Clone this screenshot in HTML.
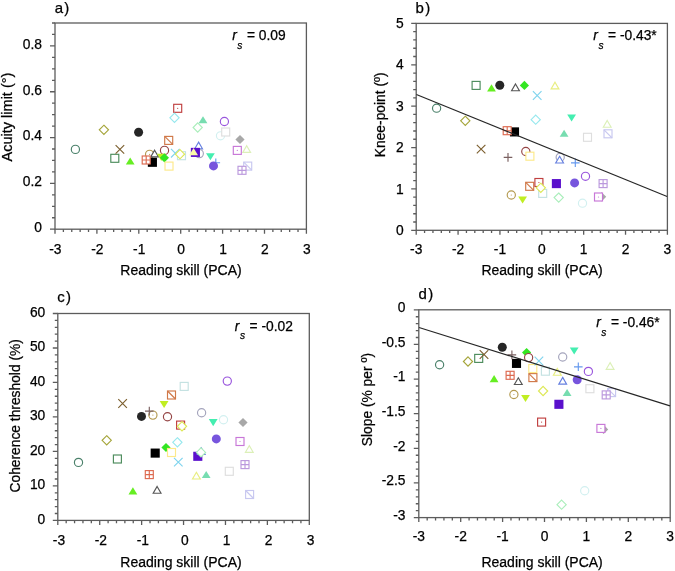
<!DOCTYPE html>
<html><head><meta charset="utf-8"><style>
html,body{margin:0;padding:0;background:#fff;}
body{width:675px;height:571px;overflow:hidden;}
svg{display:block;filter:blur(0.35px);}
text{font-family:"Liberation Sans",sans-serif;font-size:13.8px;fill:#000000;stroke:#000000;stroke-width:0.25px;}
</style></head><body>
<svg width="675" height="571" viewBox="0 0 675 571">
<rect width="675" height="571" fill="#fff"/>
<rect x="55.0" y="23.0" width="251.39999999999998" height="206.2" fill="none" stroke="#5c5c5c" stroke-width="1.3"/>
<path d="M50.00 229.20H55.0M52.00 217.74H55.0M52.00 206.29H55.0M52.00 194.83H55.0M50.00 183.38H55.0M52.00 171.92H55.0M52.00 160.47H55.0M52.00 149.01H55.0M50.00 137.56H55.0M52.00 126.10H55.0M52.00 114.64H55.0M52.00 103.19H55.0M50.00 91.73H55.0M52.00 80.28H55.0M52.00 68.82H55.0M52.00 57.37H55.0M50.00 45.91H55.0M52.00 34.46H55.0M52.00 23.00H55.0M55.00 229.2V233.70M63.38 229.2V232.00M71.76 229.2V232.00M80.14 229.2V232.00M88.52 229.2V232.00M96.90 229.2V233.70M105.28 229.2V232.00M113.66 229.2V232.00M122.04 229.2V232.00M130.42 229.2V232.00M138.80 229.2V233.70M147.18 229.2V232.00M155.56 229.2V232.00M163.94 229.2V232.00M172.32 229.2V232.00M180.70 229.2V233.70M189.08 229.2V232.00M197.46 229.2V232.00M205.84 229.2V232.00M214.22 229.2V232.00M222.60 229.2V233.70M230.98 229.2V232.00M239.36 229.2V232.00M247.74 229.2V232.00M256.12 229.2V232.00M264.50 229.2V233.70M272.88 229.2V232.00M281.26 229.2V232.00M289.64 229.2V232.00M298.02 229.2V232.00M306.40 229.2V233.70" stroke="#5c5c5c" stroke-width="1.3" fill="none"/>
<text x="41.9" y="232.10" text-anchor="end">0</text>
<text x="41.9" y="186.28" text-anchor="end">0.2</text>
<text x="41.9" y="140.46" text-anchor="end">0.4</text>
<text x="41.9" y="94.63" text-anchor="end">0.6</text>
<text x="41.9" y="48.81" text-anchor="end">0.8</text>
<text x="55.40" y="253.50" text-anchor="middle">-3</text>
<text x="97.30" y="253.50" text-anchor="middle">-2</text>
<text x="139.20" y="253.50" text-anchor="middle">-1</text>
<text x="181.10" y="253.50" text-anchor="middle">0</text>
<text x="223.00" y="253.50" text-anchor="middle">1</text>
<text x="264.90" y="253.50" text-anchor="middle">2</text>
<text x="306.80" y="253.50" text-anchor="middle">3</text>
<text x="181.00" y="275.2" text-anchor="middle" style="font-size:14px">Reading skill (PCA)</text>
<text transform="translate(12.2 117.0) rotate(-90)" text-anchor="middle" style="font-size:14.5px">Acuity limit (°)</text>
<text x="54.7" y="12.9" style="font-size:15px;letter-spacing:1.3px">a)</text>
<text x="232.20" y="40.0" font-style="italic">r</text>
<text x="237.30" y="48.70" style="font-style:italic;font-size:10.2px">s</text>
<text x="246.90" y="40.0">= 0.09</text>
<circle cx="75.4" cy="149.4" r="4.10" fill="#fff" stroke="#4a806a" stroke-width="1.15"/>
<path d="M103.9 125.20L108.50 129.8L103.9 134.40L99.30 129.8Z" fill="#fff" stroke="#a5a53a" stroke-width="1.15"/>
<rect x="110.80" y="154.30" width="8.00" height="8.00" fill="#fff" stroke="#4c8c5c" stroke-width="1.15"/>
<path d="M115.60 145.10L124.20 153.70M124.20 145.10L115.60 153.70" stroke="#7d6030" stroke-width="1.15"/>
<path d="M130.2 157.40L134.60 164.50L125.80 164.50Z" fill="#66ee22"/>
<circle cx="138.6" cy="132.2" r="4.50" fill="#262626"/>
<circle cx="149.6" cy="154.3" r="4.10" fill="#fff" stroke="#b49a50" stroke-width="1.15"/><circle cx="149.6" cy="154.3" r="0.6" fill="#b49a50"/>
<path d="M154.6 150.20L158.50 156.90L150.70 156.90Z" fill="#fff" stroke="#555555" stroke-width="1.15"/>
<rect x="147.85" y="157.75" width="9.10" height="9.10" fill="#000000"/>
<rect x="142.20" y="156.00" width="8.00" height="8.00" fill="#fff" stroke="#dd6a50" stroke-width="1.15"/><path d="M142.20 160.0H150.20M146.2 156.00V164.00" stroke="#dd6a50" stroke-width="1.15"/>
<circle cx="164.5" cy="150.4" r="4.10" fill="#fff" stroke="#954545" stroke-width="1.15"/>
<path d="M161.3 160.90L165.70 153.80L156.90 153.80Z" fill="#c0ee22"/>
<path d="M164.4 153.20L169.00 157.8L164.4 162.40L159.80 157.8Z" fill="#33e622"/>
<rect x="164.70" y="136.40" width="8.00" height="8.00" fill="#fff" stroke="#d07848" stroke-width="1.15"/><path d="M164.70 136.40L172.70 144.40" stroke="#d07848" stroke-width="1.15"/>
<rect x="165.00" y="162.10" width="8.00" height="8.00" fill="#fff" stroke="#fde98a" stroke-width="1.15"/>
<rect x="173.70" y="104.30" width="8.00" height="8.00" fill="#fff" stroke="#c04040" stroke-width="1.15"/><circle cx="177.7" cy="108.3" r="0.6" fill="#c04040"/>
<path d="M174.5 113.20L179.10 117.8L174.5 122.40L169.90 117.8Z" fill="#fff" stroke="#96e8ee" stroke-width="1.15"/>
<path d="M171.00 148.90L179.60 157.50M179.60 148.90L171.00 157.50" stroke="#7fd4ee" stroke-width="1.15"/>
<rect x="177.50" y="151.70" width="8.00" height="8.00" fill="#fff" stroke="#c4e2e2" stroke-width="1.15"/>
<path d="M180 149.60L184.60 154.2L180 158.80L175.40 154.2Z" fill="#fff" stroke="#dde855" stroke-width="1.15"/>
<path d="M197.7 122.90L202.30 127.5L197.7 132.10L193.10 127.5Z" fill="#fff" stroke="#aaeebb" stroke-width="1.15"/>
<path d="M198.6 142.10L202.50 148.80L194.70 148.80Z" fill="#fff" stroke="#6680e0" stroke-width="1.15"/>
<circle cx="199.3" cy="153.6" r="4.10" fill="#fff" stroke="#a4a4bc" stroke-width="1.15"/>
<rect x="190.85" y="147.85" width="9.10" height="9.10" fill="#5a10cc"/>
<path d="M193.6 148.10L198.00 155.20L189.20 155.20Z" fill="#fafaa8"/>
<path d="M203 116.20L207.40 123.30L198.60 123.30Z" fill="#77ddb0"/>
<path d="M210.4 160.30L214.80 153.20L206.00 153.20Z" fill="#44eeb0"/>
<path d="M211.50 162.7H220.10M215.8 158.40V167.00" stroke="#6699ee" stroke-width="1.15"/>
<circle cx="213.5" cy="165.9" r="4.50" fill="#7755dd"/>
<circle cx="220.5" cy="135.8" r="4.10" fill="#fff" stroke="#d2f0f0" stroke-width="1.15"/>
<circle cx="224.4" cy="121.5" r="4.10" fill="#fff" stroke="#9955dd" stroke-width="1.15"/>
<rect x="221.70" y="128.00" width="8.00" height="8.00" fill="#fff" stroke="#dedede" stroke-width="1.15"/>
<rect x="233.30" y="146.40" width="8.00" height="8.00" fill="#fff" stroke="#c877d8" stroke-width="1.15"/><circle cx="237.3" cy="150.4" r="0.6" fill="#c877d8"/>
<path d="M240 134.90L244.60 139.5L240 144.10L235.40 139.5Z" fill="#a8a8a8"/>
<rect x="243.70" y="162.10" width="8.00" height="8.00" fill="#fff" stroke="#c8c8f0" stroke-width="1.15"/><path d="M243.70 162.10L251.70 170.10" stroke="#c8c8f0" stroke-width="1.15"/>
<rect x="238.00" y="166.30" width="8.00" height="8.00" fill="#fff" stroke="#bb99dd" stroke-width="1.15"/><path d="M238.00 170.3H246.00M242 166.30V174.30" stroke="#bb99dd" stroke-width="1.15"/>
<path d="M246.7 145.70L250.60 152.40L242.80 152.40Z" fill="#fff" stroke="#dcf0b8" stroke-width="1.15"/>
<rect x="416.2" y="23.4" width="251.2" height="206.9" fill="none" stroke="#5c5c5c" stroke-width="1.3"/>
<path d="M411.20 230.30H416.2M413.20 222.02H416.2M413.20 213.75H416.2M413.20 205.47H416.2M413.20 197.20H416.2M411.20 188.92H416.2M413.20 180.64H416.2M413.20 172.37H416.2M413.20 164.09H416.2M413.20 155.82H416.2M411.20 147.54H416.2M413.20 139.26H416.2M413.20 130.99H416.2M413.20 122.71H416.2M413.20 114.44H416.2M411.20 106.16H416.2M413.20 97.88H416.2M413.20 89.61H416.2M413.20 81.33H416.2M413.20 73.06H416.2M411.20 64.78H416.2M413.20 56.50H416.2M413.20 48.23H416.2M413.20 39.95H416.2M413.20 31.68H416.2M411.20 23.40H416.2M416.20 230.3V234.80M424.57 230.3V233.10M432.95 230.3V233.10M441.32 230.3V233.10M449.69 230.3V233.10M458.07 230.3V234.80M466.44 230.3V233.10M474.81 230.3V233.10M483.19 230.3V233.10M491.56 230.3V233.10M499.93 230.3V234.80M508.31 230.3V233.10M516.68 230.3V233.10M525.05 230.3V233.10M533.43 230.3V233.10M541.80 230.3V234.80M550.17 230.3V233.10M558.55 230.3V233.10M566.92 230.3V233.10M575.29 230.3V233.10M583.67 230.3V234.80M592.04 230.3V233.10M600.41 230.3V233.10M608.79 230.3V233.10M617.16 230.3V233.10M625.53 230.3V234.80M633.91 230.3V233.10M642.28 230.3V233.10M650.65 230.3V233.10M659.03 230.3V233.10M667.40 230.3V234.80" stroke="#5c5c5c" stroke-width="1.3" fill="none"/>
<text x="403.6" y="234.90" text-anchor="end">0</text>
<text x="403.6" y="193.52" text-anchor="end">1</text>
<text x="403.6" y="152.14" text-anchor="end">2</text>
<text x="403.6" y="110.76" text-anchor="end">3</text>
<text x="403.6" y="69.38" text-anchor="end">4</text>
<text x="403.6" y="28.00" text-anchor="end">5</text>
<text x="416.20" y="253.50" text-anchor="middle">-3</text>
<text x="458.07" y="253.50" text-anchor="middle">-2</text>
<text x="499.93" y="253.50" text-anchor="middle">-1</text>
<text x="541.80" y="253.50" text-anchor="middle">0</text>
<text x="583.67" y="253.50" text-anchor="middle">1</text>
<text x="625.53" y="253.50" text-anchor="middle">2</text>
<text x="667.40" y="253.50" text-anchor="middle">3</text>
<text x="542.10" y="275.4" text-anchor="middle" style="font-size:14px">Reading skill (PCA)</text>
<text transform="translate(385.4 114.8) rotate(-90)" text-anchor="middle">Knee-point (º)</text>
<text x="415.6" y="13.0" style="font-size:15px;letter-spacing:1.3px">b)</text>
<text x="593.30" y="40.2" font-style="italic">r</text>
<text x="598.40" y="48.90" style="font-style:italic;font-size:10.2px">s</text>
<text x="608.00" y="40.2">= -0.43*</text>
<circle cx="436.6" cy="108.2" r="4.10" fill="#fff" stroke="#4a806a" stroke-width="1.15"/>
<path d="M465.3 116.20L469.90 120.8L465.3 125.40L460.70 120.8Z" fill="#fff" stroke="#a5a53a" stroke-width="1.15"/>
<rect x="472.10" y="81.40" width="8.00" height="8.00" fill="#fff" stroke="#4c8c5c" stroke-width="1.15"/>
<path d="M476.80 144.80L485.40 153.40M485.40 144.80L476.80 153.40" stroke="#7d6030" stroke-width="1.15"/>
<path d="M491.5 84.30L495.90 91.40L487.10 91.40Z" fill="#66ee22"/>
<circle cx="499.8" cy="85.2" r="4.50" fill="#262626"/>
<rect x="509.95" y="127.35" width="9.10" height="9.10" fill="#000000"/>
<rect x="503.20" y="126.70" width="8.00" height="8.00" fill="#fff" stroke="#dd6a50" stroke-width="1.15"/><path d="M503.20 130.7H511.20M507.2 126.70V134.70" stroke="#dd6a50" stroke-width="1.15"/>
<circle cx="511.3" cy="195" r="4.10" fill="#fff" stroke="#b49a50" stroke-width="1.15"/><circle cx="511.3" cy="195" r="0.6" fill="#b49a50"/>
<path d="M515.5 84.00L519.40 90.70L511.60 90.70Z" fill="#fff" stroke="#555555" stroke-width="1.15"/>
<path d="M503.70 157.4H512.30M508 153.10V161.70" stroke="#7a6060" stroke-width="1.15"/>
<circle cx="525.8" cy="151.5" r="4.10" fill="#fff" stroke="#954545" stroke-width="1.15"/>
<path d="M522.6 203.50L527.00 196.40L518.20 196.40Z" fill="#c0ee22"/>
<path d="M524.4 80.80L529.00 85.4L524.4 90.00L519.80 85.4Z" fill="#33e622"/>
<rect x="525.70" y="182.30" width="8.00" height="8.00" fill="#fff" stroke="#d07848" stroke-width="1.15"/><path d="M525.70 182.30L533.70 190.30" stroke="#d07848" stroke-width="1.15"/>
<rect x="525.90" y="152.20" width="8.00" height="8.00" fill="#fff" stroke="#fde98a" stroke-width="1.15"/>
<rect x="534.90" y="178.50" width="8.00" height="8.00" fill="#fff" stroke="#c04040" stroke-width="1.15"/><circle cx="538.9" cy="182.5" r="0.6" fill="#c04040"/>
<path d="M535.7 115.10L540.30 119.7L535.7 124.30L531.10 119.7Z" fill="#fff" stroke="#96e8ee" stroke-width="1.15"/>
<path d="M532.90 91.20L541.50 99.80M541.50 91.20L532.90 99.80" stroke="#7fd4ee" stroke-width="1.15"/>
<rect x="538.70" y="189.40" width="8.00" height="8.00" fill="#fff" stroke="#c4e2e2" stroke-width="1.15"/>
<path d="M540.8 183.20L545.40 187.8L540.8 192.40L536.20 187.8Z" fill="#fff" stroke="#dde855" stroke-width="1.15"/>
<path d="M555 82.20L558.90 88.90L551.10 88.90Z" fill="#fff" stroke="#e8ee80" stroke-width="1.15"/>
<rect x="551.85" y="179.05" width="9.10" height="9.10" fill="#5a10cc"/>
<path d="M558.7 193.00L563.30 197.6L558.7 202.20L554.10 197.6Z" fill="#fff" stroke="#aaeebb" stroke-width="1.15"/>
<circle cx="560.2" cy="157.2" r="4.10" fill="#fff" stroke="#a4a4bc" stroke-width="1.15"/>
<path d="M559.6 156.30L563.50 163.00L555.70 163.00Z" fill="#fff" stroke="#6680e0" stroke-width="1.15"/>
<path d="M564.1 129.70L568.50 136.80L559.70 136.80Z" fill="#77ddb0"/>
<path d="M571.6 121.50L576.00 114.40L567.20 114.40Z" fill="#44eeb0"/>
<path d="M571.00 162.8H579.60M575.3 158.50V167.10" stroke="#6699ee" stroke-width="1.15"/>
<circle cx="574.6" cy="182.9" r="4.50" fill="#7755dd"/>
<circle cx="582.5" cy="203.2" r="4.10" fill="#fff" stroke="#d2f0f0" stroke-width="1.15"/>
<circle cx="585.5" cy="176.3" r="4.10" fill="#fff" stroke="#9955dd" stroke-width="1.15"/>
<rect x="583.50" y="133.30" width="8.00" height="8.00" fill="#fff" stroke="#dedede" stroke-width="1.15"/>
<path d="M601.6 192.20L606.20 196.8L601.6 201.40L597.00 196.8Z" fill="#a8a8a8"/>
<rect x="594.50" y="193.00" width="8.00" height="8.00" fill="#fff" stroke="#c877d8" stroke-width="1.15"/><circle cx="598.5" cy="197" r="0.6" fill="#c877d8"/>
<rect x="599.10" y="179.60" width="8.00" height="8.00" fill="#fff" stroke="#bb99dd" stroke-width="1.15"/><path d="M599.10 183.6H607.10M603.1 179.60V187.60" stroke="#bb99dd" stroke-width="1.15"/>
<path d="M607.2 120.50L611.10 127.20L603.30 127.20Z" fill="#fff" stroke="#dcf0b8" stroke-width="1.15"/>
<rect x="604.00" y="129.80" width="8.00" height="8.00" fill="#fff" stroke="#c8c8f0" stroke-width="1.15"/><path d="M604.00 129.80L612.00 137.80" stroke="#c8c8f0" stroke-width="1.15"/>
<path d="M416.4 94.5L667.1 196.5" stroke="#262626" stroke-width="1.15"/>
<rect x="57.8" y="313.5" width="251.5" height="206.89999999999998" fill="none" stroke="#5c5c5c" stroke-width="1.3"/>
<path d="M52.80 520.40H57.8M54.80 513.50H57.8M54.80 506.61H57.8M54.80 499.71H57.8M54.80 492.81H57.8M52.80 485.92H57.8M54.80 479.02H57.8M54.80 472.12H57.8M54.80 465.23H57.8M54.80 458.33H57.8M52.80 451.43H57.8M54.80 444.54H57.8M54.80 437.64H57.8M54.80 430.74H57.8M54.80 423.85H57.8M52.80 416.95H57.8M54.80 410.05H57.8M54.80 403.16H57.8M54.80 396.26H57.8M54.80 389.36H57.8M52.80 382.47H57.8M54.80 375.57H57.8M54.80 368.67H57.8M54.80 361.78H57.8M54.80 354.88H57.8M52.80 347.98H57.8M54.80 341.09H57.8M54.80 334.19H57.8M54.80 327.29H57.8M54.80 320.40H57.8M52.80 313.50H57.8M57.80 520.4V524.90M66.18 520.4V523.20M74.57 520.4V523.20M82.95 520.4V523.20M91.33 520.4V523.20M99.72 520.4V524.90M108.10 520.4V523.20M116.48 520.4V523.20M124.87 520.4V523.20M133.25 520.4V523.20M141.63 520.4V524.90M150.02 520.4V523.20M158.40 520.4V523.20M166.78 520.4V523.20M175.17 520.4V523.20M183.55 520.4V524.90M191.93 520.4V523.20M200.32 520.4V523.20M208.70 520.4V523.20M217.08 520.4V523.20M225.47 520.4V524.90M233.85 520.4V523.20M242.23 520.4V523.20M250.62 520.4V523.20M259.00 520.4V523.20M267.38 520.4V524.90M275.77 520.4V523.20M284.15 520.4V523.20M292.53 520.4V523.20M300.92 520.4V523.20M309.30 520.4V524.90" stroke="#5c5c5c" stroke-width="1.3" fill="none"/>
<text x="45.3" y="523.50" text-anchor="end">0</text>
<text x="45.3" y="489.02" text-anchor="end">10</text>
<text x="45.3" y="454.53" text-anchor="end">20</text>
<text x="45.3" y="420.05" text-anchor="end">30</text>
<text x="45.3" y="385.57" text-anchor="end">40</text>
<text x="45.3" y="351.08" text-anchor="end">50</text>
<text x="45.3" y="316.60" text-anchor="end">60</text>
<text x="59.00" y="544.60" text-anchor="middle">-3</text>
<text x="100.92" y="544.60" text-anchor="middle">-2</text>
<text x="142.83" y="544.60" text-anchor="middle">-1</text>
<text x="184.75" y="544.60" text-anchor="middle">0</text>
<text x="226.67" y="544.60" text-anchor="middle">1</text>
<text x="268.58" y="544.60" text-anchor="middle">2</text>
<text x="310.50" y="544.60" text-anchor="middle">3</text>
<text x="181.00" y="567.1" text-anchor="middle" style="font-size:14px">Reading skill (PCA)</text>
<text transform="translate(20.3 415.8) rotate(-90)" text-anchor="middle">Coherence threshold (%)</text>
<text x="57.2" y="301.6" style="font-size:15px;letter-spacing:1.3px">c)</text>
<text x="234.80" y="330.6" font-style="italic">r</text>
<text x="239.90" y="339.30" style="font-style:italic;font-size:10.2px">s</text>
<text x="249.50" y="330.6">= -0.02</text>
<circle cx="78.5" cy="462.4" r="4.10" fill="#fff" stroke="#4a806a" stroke-width="1.15"/>
<path d="M106.7 435.70L111.30 440.3L106.7 444.90L102.10 440.3Z" fill="#fff" stroke="#a5a53a" stroke-width="1.15"/>
<rect x="113.40" y="455.00" width="8.00" height="8.00" fill="#fff" stroke="#4c8c5c" stroke-width="1.15"/>
<path d="M118.30 399.20L126.90 407.80M126.90 399.20L118.30 407.80" stroke="#7d6030" stroke-width="1.15"/>
<path d="M132.9 487.30L137.30 494.40L128.50 494.40Z" fill="#66ee22"/>
<circle cx="141.5" cy="416.4" r="4.50" fill="#262626"/>
<rect x="145.30" y="470.60" width="8.00" height="8.00" fill="#fff" stroke="#dd6a50" stroke-width="1.15"/><path d="M145.30 474.6H153.30M149.3 470.60V478.60" stroke="#dd6a50" stroke-width="1.15"/>
<rect x="150.65" y="448.55" width="9.10" height="9.10" fill="#000000"/>
<circle cx="152.9" cy="415.1" r="4.10" fill="#fff" stroke="#b49a50" stroke-width="1.15"/><circle cx="152.9" cy="415.1" r="0.6" fill="#b49a50"/>
<path d="M157.1 486.50L161.00 493.20L153.20 493.20Z" fill="#fff" stroke="#555555" stroke-width="1.15"/>
<path d="M145.00 411.1H153.60M149.3 406.80V415.40" stroke="#7a6060" stroke-width="1.15"/>
<circle cx="167.5" cy="416.8" r="4.10" fill="#fff" stroke="#954545" stroke-width="1.15"/>
<path d="M164.1 408.00L168.50 400.90L159.70 400.90Z" fill="#c0ee22"/>
<path d="M166 442.90L170.60 447.5L166 452.10L161.40 447.5Z" fill="#33e622"/>
<rect x="167.50" y="391.00" width="8.00" height="8.00" fill="#fff" stroke="#d07848" stroke-width="1.15"/><path d="M167.50 391.00L175.50 399.00" stroke="#d07848" stroke-width="1.15"/>
<rect x="167.50" y="448.50" width="8.00" height="8.00" fill="#fff" stroke="#fde98a" stroke-width="1.15"/>
<rect x="176.60" y="421.10" width="8.00" height="8.00" fill="#fff" stroke="#c04040" stroke-width="1.15"/><circle cx="180.6" cy="425.1" r="0.6" fill="#c04040"/>
<path d="M177.4 437.70L182.00 442.3L177.4 446.90L172.80 442.3Z" fill="#fff" stroke="#96e8ee" stroke-width="1.15"/>
<path d="M174.00 457.80L182.60 466.40M182.60 457.80L174.00 466.40" stroke="#7fd4ee" stroke-width="1.15"/>
<path d="M182 421.70L186.60 426.3L182 430.90L177.40 426.3Z" fill="#fff" stroke="#dde855" stroke-width="1.15"/>
<rect x="180.20" y="382.40" width="8.00" height="8.00" fill="#fff" stroke="#c4e2e2" stroke-width="1.15"/>
<path d="M196.4 472.30L200.30 479.00L192.50 479.00Z" fill="#fff" stroke="#e8ee80" stroke-width="1.15"/>
<rect x="193.25" y="451.75" width="9.10" height="9.10" fill="#5a10cc"/>
<path d="M201.2 447.80L205.10 454.50L197.30 454.50Z" fill="#fff" stroke="#6680e0" stroke-width="1.15"/>
<path d="M201 447.80L205.60 452.4L201 457.00L196.40 452.4Z" fill="#fff" stroke="#aaeebb" stroke-width="1.15"/>
<circle cx="201.6" cy="412.7" r="4.10" fill="#fff" stroke="#a4a4bc" stroke-width="1.15"/>
<path d="M206.2 471.00L210.60 478.10L201.80 478.10Z" fill="#77ddb0"/>
<path d="M213.2 426.20L217.60 419.10L208.80 419.10Z" fill="#44eeb0"/>
<circle cx="216.3" cy="438.9" r="4.50" fill="#7755dd"/>
<circle cx="223.5" cy="419.8" r="4.10" fill="#fff" stroke="#d2f0f0" stroke-width="1.15"/>
<circle cx="227.3" cy="381.1" r="4.10" fill="#fff" stroke="#9955dd" stroke-width="1.15"/>
<rect x="225.30" y="467.30" width="8.00" height="8.00" fill="#fff" stroke="#dedede" stroke-width="1.15"/>
<rect x="236.00" y="437.50" width="8.00" height="8.00" fill="#fff" stroke="#c877d8" stroke-width="1.15"/><circle cx="240" cy="441.5" r="0.6" fill="#c877d8"/>
<path d="M243 417.90L247.60 422.5L243 427.10L238.40 422.5Z" fill="#a8a8a8"/>
<rect x="241.00" y="460.60" width="8.00" height="8.00" fill="#fff" stroke="#bb99dd" stroke-width="1.15"/><path d="M241.00 464.6H249.00M245 460.60V468.60" stroke="#bb99dd" stroke-width="1.15"/>
<path d="M249.3 445.60L253.20 452.30L245.40 452.30Z" fill="#fff" stroke="#dcf0b8" stroke-width="1.15"/>
<rect x="245.60" y="490.50" width="8.00" height="8.00" fill="#fff" stroke="#c8c8f0" stroke-width="1.15"/><path d="M245.60 490.50L253.60 498.50" stroke="#c8c8f0" stroke-width="1.15"/>
<rect x="418.8" y="309.8" width="251.40000000000003" height="207.8" fill="none" stroke="#5c5c5c" stroke-width="1.3"/>
<path d="M413.80 309.80H418.8M415.80 316.73H418.8M415.80 323.65H418.8M415.80 330.58H418.8M415.80 337.51H418.8M413.80 344.43H418.8M415.80 351.36H418.8M415.80 358.29H418.8M415.80 365.21H418.8M415.80 372.14H418.8M413.80 379.07H418.8M415.80 385.99H418.8M415.80 392.92H418.8M415.80 399.85H418.8M415.80 406.77H418.8M413.80 413.70H418.8M415.80 420.63H418.8M415.80 427.55H418.8M415.80 434.48H418.8M415.80 441.41H418.8M413.80 448.33H418.8M415.80 455.26H418.8M415.80 462.19H418.8M415.80 469.11H418.8M415.80 476.04H418.8M413.80 482.97H418.8M415.80 489.89H418.8M415.80 496.82H418.8M415.80 503.75H418.8M415.80 510.67H418.8M413.80 517.60H418.8M418.80 517.6V522.10M427.18 517.6V520.40M435.56 517.6V520.40M443.94 517.6V520.40M452.32 517.6V520.40M460.70 517.6V522.10M469.08 517.6V520.40M477.46 517.6V520.40M485.84 517.6V520.40M494.22 517.6V520.40M502.60 517.6V522.10M510.98 517.6V520.40M519.36 517.6V520.40M527.74 517.6V520.40M536.12 517.6V520.40M544.50 517.6V522.10M552.88 517.6V520.40M561.26 517.6V520.40M569.64 517.6V520.40M578.02 517.6V520.40M586.40 517.6V522.10M594.78 517.6V520.40M603.16 517.6V520.40M611.54 517.6V520.40M619.92 517.6V520.40M628.30 517.6V522.10M636.68 517.6V520.40M645.06 517.6V520.40M653.44 517.6V520.40M661.82 517.6V520.40M670.20 517.6V522.10" stroke="#5c5c5c" stroke-width="1.3" fill="none"/>
<text x="405.5" y="312.20" text-anchor="end">0</text>
<text x="405.5" y="346.83" text-anchor="end">-0.5</text>
<text x="405.5" y="381.47" text-anchor="end">-1</text>
<text x="405.5" y="416.10" text-anchor="end">-1.5</text>
<text x="405.5" y="450.73" text-anchor="end">-2</text>
<text x="405.5" y="485.37" text-anchor="end">-2.5</text>
<text x="405.5" y="520.00" text-anchor="end">-3</text>
<text x="418.80" y="540.90" text-anchor="middle">-3</text>
<text x="460.70" y="540.90" text-anchor="middle">-2</text>
<text x="502.60" y="540.90" text-anchor="middle">-1</text>
<text x="544.50" y="540.90" text-anchor="middle">0</text>
<text x="586.40" y="540.90" text-anchor="middle">1</text>
<text x="628.30" y="540.90" text-anchor="middle">2</text>
<text x="670.20" y="540.90" text-anchor="middle">3</text>
<text x="542.10" y="567.1" text-anchor="middle" style="font-size:14px">Reading skill (PCA)</text>
<text transform="translate(371.7 399.6) rotate(-90)" text-anchor="middle">Slope (% per º)</text>
<text x="418.5" y="298.8" style="font-size:15px;letter-spacing:1.3px">d)</text>
<text x="596.20" y="327.0" font-style="italic">r</text>
<text x="601.30" y="335.70" style="font-style:italic;font-size:10.2px">s</text>
<text x="610.90" y="327.0">= -0.46*</text>
<circle cx="439.6" cy="364.7" r="4.10" fill="#fff" stroke="#4a806a" stroke-width="1.15"/>
<path d="M468 356.90L472.60 361.5L468 366.10L463.40 361.5Z" fill="#fff" stroke="#a5a53a" stroke-width="1.15"/>
<rect x="474.70" y="354.40" width="8.00" height="8.00" fill="#fff" stroke="#4c8c5c" stroke-width="1.15"/>
<path d="M479.70 350.20L488.30 358.80M488.30 350.20L479.70 358.80" stroke="#7d6030" stroke-width="1.15"/>
<path d="M494.1 375.10L498.50 382.20L489.70 382.20Z" fill="#66ee22"/>
<circle cx="502.3" cy="347.2" r="4.50" fill="#262626"/>
<rect x="506.10" y="371.30" width="8.00" height="8.00" fill="#fff" stroke="#dd6a50" stroke-width="1.15"/><path d="M506.10 375.3H514.10M510.1 371.30V379.30" stroke="#dd6a50" stroke-width="1.15"/>
<rect x="511.95" y="358.85" width="9.10" height="9.10" fill="#000000"/>
<circle cx="513.9" cy="394.5" r="4.10" fill="#fff" stroke="#b49a50" stroke-width="1.15"/><circle cx="513.9" cy="394.5" r="0.6" fill="#b49a50"/>
<path d="M518.3 377.80L522.20 384.50L514.40 384.50Z" fill="#fff" stroke="#555555" stroke-width="1.15"/>
<path d="M507.60 354.9H516.20M511.9 350.60V359.20" stroke="#7a6060" stroke-width="1.15"/>
<path d="M526.6 348.00L531.20 352.6L526.6 357.20L522.00 352.6Z" fill="#33e622"/>
<circle cx="528.6" cy="357.6" r="4.10" fill="#fff" stroke="#954545" stroke-width="1.15"/>
<path d="M525.5 402.00L529.90 394.90L521.10 394.90Z" fill="#c0ee22"/>
<rect x="528.90" y="373.60" width="8.00" height="8.00" fill="#fff" stroke="#d07848" stroke-width="1.15"/><path d="M528.90 373.60L536.90 381.60" stroke="#d07848" stroke-width="1.15"/>
<rect x="528.80" y="364.50" width="8.00" height="8.00" fill="#fff" stroke="#fde98a" stroke-width="1.15"/>
<rect x="537.60" y="418.10" width="8.00" height="8.00" fill="#fff" stroke="#c04040" stroke-width="1.15"/><circle cx="541.6" cy="422.1" r="0.6" fill="#c04040"/>
<path d="M534.60 356.70L543.20 365.30M543.20 356.70L534.60 365.30" stroke="#7fd4ee" stroke-width="1.15"/>
<path d="M543.1 386.40L547.70 391L543.1 395.60L538.50 391Z" fill="#fff" stroke="#dde855" stroke-width="1.15"/>
<rect x="541.40" y="367.20" width="8.00" height="8.00" fill="#fff" stroke="#c4e2e2" stroke-width="1.15"/>
<path d="M557.3 368.50L561.20 375.20L553.40 375.20Z" fill="#fff" stroke="#e8ee80" stroke-width="1.15"/>
<rect x="554.35" y="399.75" width="9.10" height="9.10" fill="#5a10cc"/>
<path d="M561.6 500.10L566.20 504.7L561.6 509.30L557.00 504.7Z" fill="#fff" stroke="#aaeebb" stroke-width="1.15"/>
<path d="M562.7 377.40L566.60 384.10L558.80 384.10Z" fill="#fff" stroke="#6680e0" stroke-width="1.15"/>
<circle cx="562.7" cy="357" r="4.10" fill="#fff" stroke="#a4a4bc" stroke-width="1.15"/>
<path d="M567.1 389.00L571.50 396.10L562.70 396.10Z" fill="#77ddb0"/>
<path d="M574.2 354.50L578.60 347.40L569.80 347.40Z" fill="#44eeb0"/>
<path d="M574.00 366.8H582.60M578.3 362.50V371.10" stroke="#6699ee" stroke-width="1.15"/>
<circle cx="577.2" cy="379.8" r="4.50" fill="#7755dd"/>
<circle cx="584.7" cy="490.8" r="4.10" fill="#fff" stroke="#d2f0f0" stroke-width="1.15"/>
<circle cx="588.4" cy="371.4" r="4.10" fill="#fff" stroke="#9955dd" stroke-width="1.15"/>
<rect x="585.90" y="384.70" width="8.00" height="8.00" fill="#fff" stroke="#dedede" stroke-width="1.15"/>
<path d="M603.6 424.80L608.20 429.4L603.6 434.00L599.00 429.4Z" fill="#a8a8a8"/>
<rect x="596.90" y="424.40" width="8.00" height="8.00" fill="#fff" stroke="#c877d8" stroke-width="1.15"/><circle cx="600.9" cy="428.4" r="0.6" fill="#c877d8"/>
<rect x="607.60" y="388.60" width="8.00" height="8.00" fill="#fff" stroke="#c8c8f0" stroke-width="1.15"/><path d="M607.60 388.60L615.60 396.60" stroke="#c8c8f0" stroke-width="1.15"/>
<rect x="602.20" y="390.90" width="8.00" height="8.00" fill="#fff" stroke="#bb99dd" stroke-width="1.15"/><path d="M602.20 394.9H610.20M606.2 390.90V398.90" stroke="#bb99dd" stroke-width="1.15"/>
<path d="M610.1 362.60L614.00 369.30L606.20 369.30Z" fill="#fff" stroke="#dcf0b8" stroke-width="1.15"/>
<path d="M419.0 327.5L670.0 405.9" stroke="#262626" stroke-width="1.15"/>
</svg>
</body></html>
